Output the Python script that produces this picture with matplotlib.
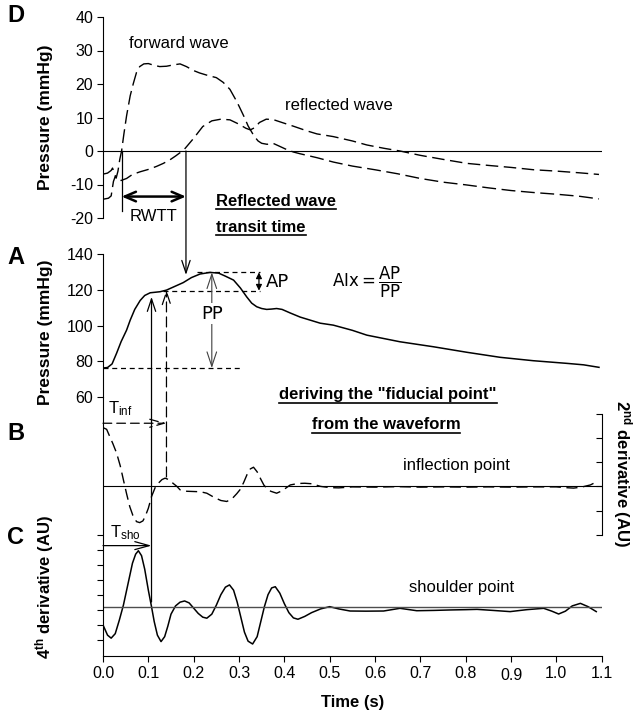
import matplotlib

matplotlib.use("Agg")

import matplotlib.pyplot as plt
import numpy as np
from matplotlib.lines import Line2D
from matplotlib.patches import ConnectionPatch
from matplotlib.transforms import IdentityTransform, ScaledTranslation

plt.rcParams["font.family"] = ["Liberation Sans", "DejaVu Sans"]
plt.rcParams["mathtext.fontset"] = "custom"
plt.rcParams["mathtext.rm"] = "Liberation Sans"
plt.rcParams["mathtext.it"] = "Liberation Sans:italic"
plt.rcParams["mathtext.bf"] = "Liberation Sans:bold"
plt.rcParams["axes.unicode_minus"] = False
plt.rcParams["font.size"] = 11.5

# panel D: separated forward / reflected waves (mmHg)
fwd_t = [0.000, 0.010, 0.018, 0.021, 0.025, 0.029, 0.033, 0.037, 0.041, 0.046, 0.052, 0.060,
         0.067, 0.074, 0.081, 0.090, 0.100, 0.112, 0.125, 0.140, 0.155, 0.170, 0.184, 0.200,
         0.213, 0.230, 0.250, 0.265, 0.280, 0.292, 0.300, 0.312, 0.320, 0.333, 0.342, 0.350,
         0.362, 0.375, 0.388, 0.404, 0.420, 0.434, 0.472, 0.508, 0.550, 0.600, 0.650, 0.700,
         0.750, 0.800, 0.850, 0.900, 0.950, 1.000, 1.050, 1.094]
fwd_p = [-6.9, -6.6, -5.8, -5.1, -6.5, -8.1, -6.0, -2.5, 0.0, 5.0, 10.5, 16.5,
         20.2, 23.5, 25.2, 26.0, 26.1, 25.6, 25.2, 25.3, 25.7, 26.0, 25.2, 24.0,
         23.3, 22.6, 21.9, 20.5, 18.4, 15.5, 13.4, 10.0, 7.5, 4.5, 3.0, 2.3,
         2.0, 2.3, 1.5, 0.5, -0.3, -0.8, -2.0, -3.3, -4.5, -5.6, -6.8, -8.2,
         -9.3, -10.1, -11.0, -11.8, -12.4, -12.9, -13.5, -14.3]
refl_t = [0.000, 0.012, 0.018, 0.023, 0.027, 0.032, 0.040, 0.052, 0.065, 0.082, 0.100, 0.118,
          0.133, 0.148, 0.160, 0.170, 0.180, 0.200, 0.220, 0.240, 0.260, 0.280, 0.300, 0.315,
          0.325, 0.335, 0.345, 0.360, 0.375, 0.395, 0.420, 0.450, 0.472, 0.508, 0.550, 0.582,
          0.620, 0.655, 0.700, 0.750, 0.803, 0.850, 0.900, 0.950, 1.000, 1.050, 1.094]
refl_p = [-14.4, -14.1, -13.4, -9.1, -7.6, -8.6, -8.8, -8.2, -7.0, -6.2, -5.5, -4.6,
          -3.7, -2.6, -1.5, -0.5, 0.6, 3.8, 7.3, 9.0, 9.5, 9.3, 8.0, 6.8,
          6.3, 7.0, 8.5, 9.5, 9.4, 8.5, 7.4, 6.0, 5.1, 4.3, 3.0, 1.8,
          0.8, 0.0, -1.3, -2.5, -3.7, -4.3, -4.9, -5.6, -6.0, -6.5, -7.0]

# panel A: pressure waveform (mmHg)
press_t = [0.000, 0.010, 0.020, 0.030, 0.040, 0.052, 0.060, 0.070, 0.082, 0.092, 0.104, 0.115,
           0.126, 0.140, 0.155, 0.177, 0.195, 0.214, 0.236, 0.255, 0.270, 0.288, 0.303, 0.317,
           0.328, 0.339, 0.350, 0.361, 0.372, 0.383, 0.395, 0.413, 0.435, 0.457, 0.479, 0.508,
           0.550, 0.582, 0.655, 0.729, 0.803, 0.876, 0.949, 1.024, 1.060, 1.094]
press_p = [76.2, 76.5, 78.5, 84.5, 91.0, 97.4, 103.0, 109.0, 114.0, 116.8, 118.3, 118.6,
           118.9, 119.8, 121.5, 124.0, 126.8, 128.8, 129.7, 129.3, 127.6, 125.4, 121.0, 116.0,
           112.5, 110.5, 109.5, 109.0, 109.2, 109.5, 109.0, 107.0, 104.7, 103.0, 101.3, 100.2,
           97.3, 94.6, 90.9, 88.1, 85.0, 82.2, 80.3, 78.8, 78.0, 76.6]

# panel B: 2nd derivative (AU)
d2_t = [0.000, 0.008, 0.015, 0.022, 0.030, 0.038, 0.045, 0.052, 0.059, 0.066, 0.074, 0.081,
        0.088, 0.093, 0.100, 0.107, 0.115, 0.122, 0.130, 0.137, 0.145, 0.155, 0.163, 0.170,
        0.185, 0.200, 0.215, 0.229, 0.245, 0.260, 0.273, 0.285, 0.295, 0.302, 0.310, 0.318,
        0.325, 0.332, 0.340, 0.348, 0.355, 0.361, 0.370, 0.383, 0.395, 0.413, 0.430, 0.445,
        0.460, 0.480, 0.501, 0.520, 0.550, 0.600, 0.650, 0.700, 0.750, 0.800, 0.850, 0.900,
        0.950, 1.000, 1.020, 1.038, 1.055, 1.075, 1.090]
d2_v = [2.42, 2.35, 2.05, 1.75, 1.37, 0.85, 0.27, -0.30, -0.83, -1.20, -1.45, -1.49,
        -1.42, -1.24, -0.90, -0.42, -0.05, 0.13, 0.28, 0.34, 0.28, 0.12, 0.00, -0.14,
        -0.20, -0.21, -0.22, -0.28, -0.45, -0.58, -0.62, -0.50, -0.30, -0.14, 0.15, 0.50,
        0.72, 0.79, 0.60, 0.30, 0.05, -0.07, -0.20, -0.28, -0.18, 0.06, 0.12, 0.13,
        0.11, 0.00, -0.05, -0.06, -0.02, -0.03, -0.01, -0.03, -0.02, -0.03, -0.02, -0.03,
        -0.02, -0.02, -0.05, -0.07, -0.03, 0.06, 0.20]

# panel C: 4th derivative (AU)
d4_t = [0.000, 0.010, 0.018, 0.027, 0.036, 0.045, 0.055, 0.065, 0.072, 0.078, 0.085, 0.092,
        0.100, 0.107, 0.113, 0.120, 0.128, 0.136, 0.143, 0.150, 0.160, 0.170, 0.180, 0.190,
        0.200, 0.210, 0.220, 0.229, 0.240, 0.250, 0.260, 0.270, 0.279, 0.288, 0.296, 0.304,
        0.312, 0.320, 0.330, 0.340, 0.348, 0.356, 0.364, 0.372, 0.380, 0.390, 0.400, 0.410,
        0.420, 0.430, 0.445, 0.460, 0.480, 0.500, 0.520, 0.545, 0.580, 0.619, 0.655, 0.692,
        0.730, 0.766, 0.800, 0.825, 0.860, 0.898, 0.935, 0.972, 0.990, 1.005, 1.020, 1.035,
        1.053, 1.070, 1.088]
d4_v = [-1.22, -1.90, -2.10, -1.80, -0.90, 0.10, 1.50, 2.90, 3.50, 3.73, 3.40, 2.50,
        1.10, 0.00, -1.00, -1.90, -2.33, -2.00, -1.30, -0.50, 0.05, 0.30, 0.38, 0.25,
        -0.10, -0.45, -0.70, -0.77, -0.50, 0.10, 0.80, 1.30, 1.45, 1.10, 0.30, -0.70,
        -1.70, -2.30, -2.49, -2.00, -1.00, 0.00, 0.80, 1.25, 1.33, 0.90, 0.20, -0.40,
        -0.75, -0.84, -0.65, -0.40, -0.15, 0.00, -0.15, -0.29, -0.30, -0.29, -0.11, -0.27,
        -0.25, -0.22, -0.20, -0.18, -0.25, -0.33, -0.20, -0.11, -0.30, -0.49, -0.30, 0.05,
        0.22, 0.00, -0.33]

time_ticks = [0.0, 0.1, 0.2, 0.3, 0.4, 0.5, 0.6, 0.7, 0.8, 0.9, 1.0, 1.1]
pressure_ticks = [60, 80, 100, 120, 140]
wave_ticks = [-20, -10, 0, 10, 20, 30, 40]

# fiducial points
t_foot, t_arrival = 0.041, 0.183
t_shoulder, t_inflection = 0.107, 0.140
t_peak = 0.240
p_min, p_inflection, p_peak = 76.2, 119.5, 129.7

W, H = 635, 711
X0, XW = 103 / W, 498.7 / W


def box(top, bottom):
    return [X0, 1 - bottom / H, XW, (bottom - top) / H]


def ftext(x, y, s, **kw):
    return fig.text(x / W, 1 - y / H, s, ha=kw.pop("ha", "center"), va=kw.pop("va", "center"), **kw)


fig = plt.figure(figsize=(W / 100, H / 100), dpi=100)
ax_d = fig.add_axes(box(17, 218))
ax_a = fig.add_axes(box(254, 397))
ax_c = fig.add_axes(box(397, 656))
ax_b = ax_c.twinx()
for ax in (ax_d, ax_a, ax_c, ax_b):
    ax.set_facecolor("none")
    ax.set_xlim(0, 1.1)
    ax.spines["top"].set_visible(False)
    ax.tick_params(length=4, width=0.8, labelsize=11.5, pad=3)

# D
ax_d.plot(fwd_t, fwd_p, color="k", lw=1.0, dashes=(10, 4))
ax_d.plot(refl_t, refl_p, color="k", lw=1.0, dashes=(9, 4))
ax_d.axhline(0, color="k", lw=0.8)
ax_d.set_ylim(-20, 40)
ax_d.set_yticks(wave_ticks)
ax_d.set_xticks([])
for s in ("right", "bottom"):
    ax_d.spines[s].set_visible(False)

ax_d.plot([t_foot, t_foot], [0, -18], color="k", lw=0.9, clip_on=False)
ax_d.annotate("", xy=(t_foot, -13.6), xytext=(t_arrival, -13.6),
              arrowprops=dict(arrowstyle="<->,head_length=0.7,head_width=0.3", lw=1.8, color="k",
                              shrinkA=0, shrinkB=0))
ax_d.text((t_foot + t_arrival) / 2, -19.6, "RWTT", ha="center", va="center", fontsize=12, clip_on=False)
ax_d.text(0.168, 32, "forward wave", ha="center", va="center", fontsize=12)
ax_d.text(0.52, 13.7, "reflected wave", ha="center", va="center", fontsize=12)

# A
ax_a.plot(press_t, press_p, color="k", lw=1.1)
ax_a.set_ylim(60, 140)
ax_a.set_yticks(pressure_ticks)
ax_a.set_xticks([])
for s in ("right", "bottom"):
    ax_a.spines[s].set_visible(False)
short_dash = (0, (4, 3))
ax_a.hlines(p_peak, 0.207, 0.347, colors="k", lw=0.9, linestyles=short_dash)
ax_a.hlines(p_inflection, 0.133, 0.347, colors="k", lw=0.9, linestyles=short_dash)
ax_a.hlines(p_min, 0.0, 0.302, colors="k", lw=0.9, linestyles=short_dash)
ax_a.annotate("", xy=(0.344, p_inflection), xytext=(0.344, p_peak),
              arrowprops=dict(arrowstyle="<|-|>,head_length=0.3,head_width=0.15", lw=0.9, color="k",
                              shrinkA=0, shrinkB=0))
ax_a.annotate("", xy=(t_peak, p_min), xytext=(t_peak, p_peak),
              arrowprops=dict(arrowstyle="<->,head_length=0.9,head_width=0.3", lw=0.8, color="0.25",
                              shrinkA=0, shrinkB=0))
ax_a.text(t_peak, 106.5, "PP", ha="center", va="center", fontsize=13, family="DejaVu Sans", zorder=5,
          bbox=dict(facecolor="white", edgecolor="none", pad=1))
ax_a.text(0.36, 124.6, "AP", ha="left", va="center", fontsize=13, family="DejaVu Sans")
ax_a.text(0.505, 124.0, r"AIx$=\dfrac{\mathrm{AP}}{\mathrm{PP}}$", ha="left", va="center", fontsize=12,
          family="DejaVu Sans", math_fontfamily="dejavusans")

# C
ax_c.plot(d4_t, d4_v, color="k", lw=1.1)
ax_c.axhline(0, color="0.3", lw=1.0)
ax_c.set_ylim(-3.29, 13.98)
ax_c.set_yticks(np.arange(8) - 2.22)
ax_c.set_yticklabels([])
ax_c.spines["right"].set_visible(False)
ax_c.set_xticks(time_ticks)
ax_c.set_xticklabels([f"{t:.1f}" for t in time_ticks])
ax_c.set_xlabel("Time (s)", fontsize=12, fontweight="bold", labelpad=8)
lab = ax_c.get_xticklabels()[9]
lab.set_transform(lab.get_transform() + ScaledTranslation(0, -2 / 72, fig.dpi_scale_trans))
ax_c.annotate("", xy=(t_shoulder, 4.07), xytext=(0, 4.07),
              arrowprops=dict(arrowstyle="->,head_length=0.9,head_width=0.25", lw=0.9, color="k",
                              shrinkA=0, shrinkB=0))
ax_c.text(0.015, 4.95, r"T$_{\mathrm{sho}}$", ha="left", va="center", fontsize=12)
ax_c.text(0.79, 1.3, "shoulder point", ha="center", va="center", fontsize=12)

# B
ax_b.plot(d2_t, d2_v, color="k", lw=1.0, dashes=(8, 4))
ax_b.axhline(0, color="k", lw=0.8)
ax_b.set_ylim(-6.98, 3.68)
ax_b.set_yticks([-2, -1, 0, 1, 2, 3])
ax_b.set_yticklabels([])
ax_b.spines["right"].set_bounds(-2, 3)
ax_b.tick_params(axis="y", direction="in")
for s in ("left", "bottom"):
    ax_b.spines[s].set_visible(False)
ax_b.annotate("", xy=(t_inflection, 2.6), xytext=(0, 2.6),
              arrowprops=dict(arrowstyle="->,head_length=0.9,head_width=0.25", lw=0.9, color="k",
                              linestyle=(0, (7, 4)), shrinkA=0, shrinkB=0))
ax_b.text(0.012, 3.2, r"T$_{\mathrm{inf}}$", ha="left", va="center", fontsize=12)
ax_b.text(0.78, 0.85, "inflection point", ha="center", va="center", fontsize=12)

# connecting arrows between panels
arrow_kw = dict(arrowstyle="->,head_length=0.9,head_width=0.3", color="k", lw=0.9, shrinkA=0, shrinkB=0)
fig.add_artist(ConnectionPatch((t_arrival, 0), (t_arrival, 128.3), ax_d.transData, ax_a.transData,
                               **arrow_kw))
fig.add_artist(ConnectionPatch((t_shoulder, 0.31), (t_shoulder, 116.0), ax_c.transData, ax_a.transData,
                               **arrow_kw))
fig.add_artist(ConnectionPatch((t_inflection, 0.39), (t_inflection, p_inflection + 0.3), ax_b.transData,
                               ax_a.transData, linestyle=(0, (8, 4)), **arrow_kw))

# free text
bold = dict(fontsize=12, fontweight="bold")
underlined = [
    ftext(216, 201, "Reflected wave", ha="left", **bold),
    ftext(216, 227, "transit time", ha="left", **bold),
    ftext(388, 395, 'deriving the "fiducial point"', **bold),
    ftext(386, 425, "from the waveform", **bold),
]
for letter, y in (("D", 16), ("A", 258), ("B", 433), ("C", 538)):
    ftext(16, y, letter, fontsize=17, fontweight="bold")
ftext(46, 117, "Pressure (mmHg)", rotation=90, fontsize=12.5, fontweight="bold")
ftext(46, 332, "Pressure (mmHg)", rotation=90, fontsize=12.5, fontweight="bold")
ftext(45, 587, r"4$^{\mathbf{th}}$ derivative (AU)", rotation=90, **bold)
ftext(622, 474, r"2$^{\mathbf{nd}}$ derivative (AU)", rotation=270, **bold)

fig.canvas.draw()
for t in underlined:
    bb = t.get_window_extent()
    fig.add_artist(Line2D([bb.x0, bb.x1], [bb.y0 - 0.5, bb.y0 - 0.5], color="k", lw=1.2,
                          transform=IdentityTransform()))

fig.savefig("out.png", dpi=100)
